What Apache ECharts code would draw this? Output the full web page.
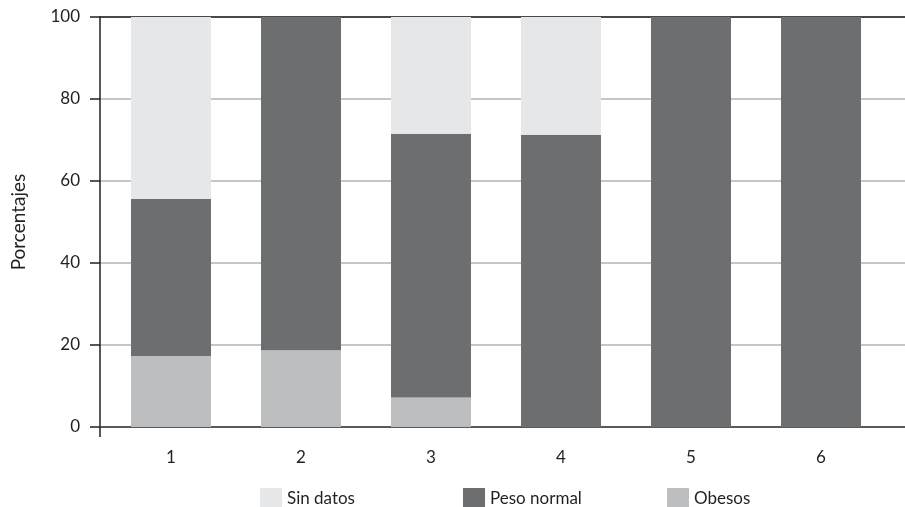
<!DOCTYPE html>
<html><head><meta charset="utf-8">
<script src="https://cdn.jsdelivr.net/npm/echarts@6/dist/echarts.min.js"></script>
<style>html,body{margin:0;padding:0;background:#fff}#c{width:905px;height:507px}</style>
</head><body><div id="c"></div>
<script>
const categories = ['1','2','3','4','5','6'];
const obesos = [17.3, 18.7, 7.2, 0, 0, 0];
const pesoNormal = [38.3, 81.3, 64.3, 71.3, 100, 100];
const sinDatos = [44.4, 0, 28.5, 28.7, 0, 0];
const yTicks = [0, 20, 40, 60, 80, 100];

const FONT = 'Lato, "Open Sans", sans-serif';
const chart = echarts.init(document.getElementById('c'), null, {renderer: 'canvas'});
const legendBase = {
  top: 483, itemWidth: 22, itemHeight: 22, itemGap: 10,
  icon: 'rect',
  textStyle: {fontFamily: FONT, fontSize: 17, color: '#231f20', padding: [0,0,0,0]}
};
chart.setOption({
  animation: false,
  legend: [
    Object.assign({}, legendBase, {left: 255, data: ['Sin datos']}),
    Object.assign({}, legendBase, {left: 458, data: ['Peso normal']}),
    Object.assign({}, legendBase, {left: 662, data: ['Obesos']})
  ],
  grid: [
    {left: 100, right: 0, top: 17, bottom: 80},
    {left: 106, width: 780, top: 17, bottom: 80}
  ],
  xAxis: [
    {type: 'value', gridIndex: 0, min: 0, max: 1, interval: 1, position: 'bottom',
     axisLine: {show: true, lineStyle: {color: '#58595b', width: 2}},
     axisTick: {show: true, length: 10, customValues: [0], lineStyle: {color: '#231f20', width: 1.5}},
     axisLabel: {show: false}, splitLine: {show: false}},
    {type: 'value', gridIndex: 0, min: 0, max: 1, interval: 1, position: 'top',
     axisLine: {show: true, lineStyle: {color: '#231f20', width: 1.5}},
     axisTick: {show: false}, axisLabel: {show: false}, splitLine: {show: false}},
    {type: 'category', gridIndex: 1, data: categories, position: 'bottom',
     axisLine: {show: false}, axisTick: {show: false},
     axisLabel: {fontFamily: FONT, fontSize: 17, color: '#231f20', margin: 22}}
  ],
  yAxis: [
    {type: 'value', gridIndex: 0, min: 0, max: 100, interval: 20,
     name: 'Porcentajes', nameLocation: 'middle', nameGap: 72,
     nameTextStyle: {fontFamily: FONT, fontSize: 19, color: '#231f20'},
     axisLine: {show: true, lineStyle: {color: '#231f20', width: 1.5}},
     axisTick: {show: true, length: 10, lineStyle: {color: '#231f20', width: 1.5}},
     axisLabel: {fontFamily: FONT, fontSize: 17, color: '#231f20', margin: 20,
                 formatter: v => yTicks.includes(v) ? String(v) : ''},
     splitLine: {show: true, lineStyle: {color: '#b1b3b6', width: 1.5}}},
    {type: 'value', gridIndex: 1, min: 0, max: 100, interval: 20, show: false}
  ],
  series: [
    {name: 'Obesos', type: 'bar', stack: 's', xAxisIndex: 2, yAxisIndex: 1,
     barWidth: 80, data: obesos, itemStyle: {color: '#bcbec0'}},
    {name: 'Peso normal', type: 'bar', stack: 's', xAxisIndex: 2, yAxisIndex: 1,
     barWidth: 80, data: pesoNormal, itemStyle: {color: '#6d6e70'}},
    {name: 'Sin datos', type: 'bar', stack: 's', xAxisIndex: 2, yAxisIndex: 1,
     barWidth: 80, data: sinDatos, itemStyle: {color: '#e6e7e8'}}
  ]
});
</script></body></html>
